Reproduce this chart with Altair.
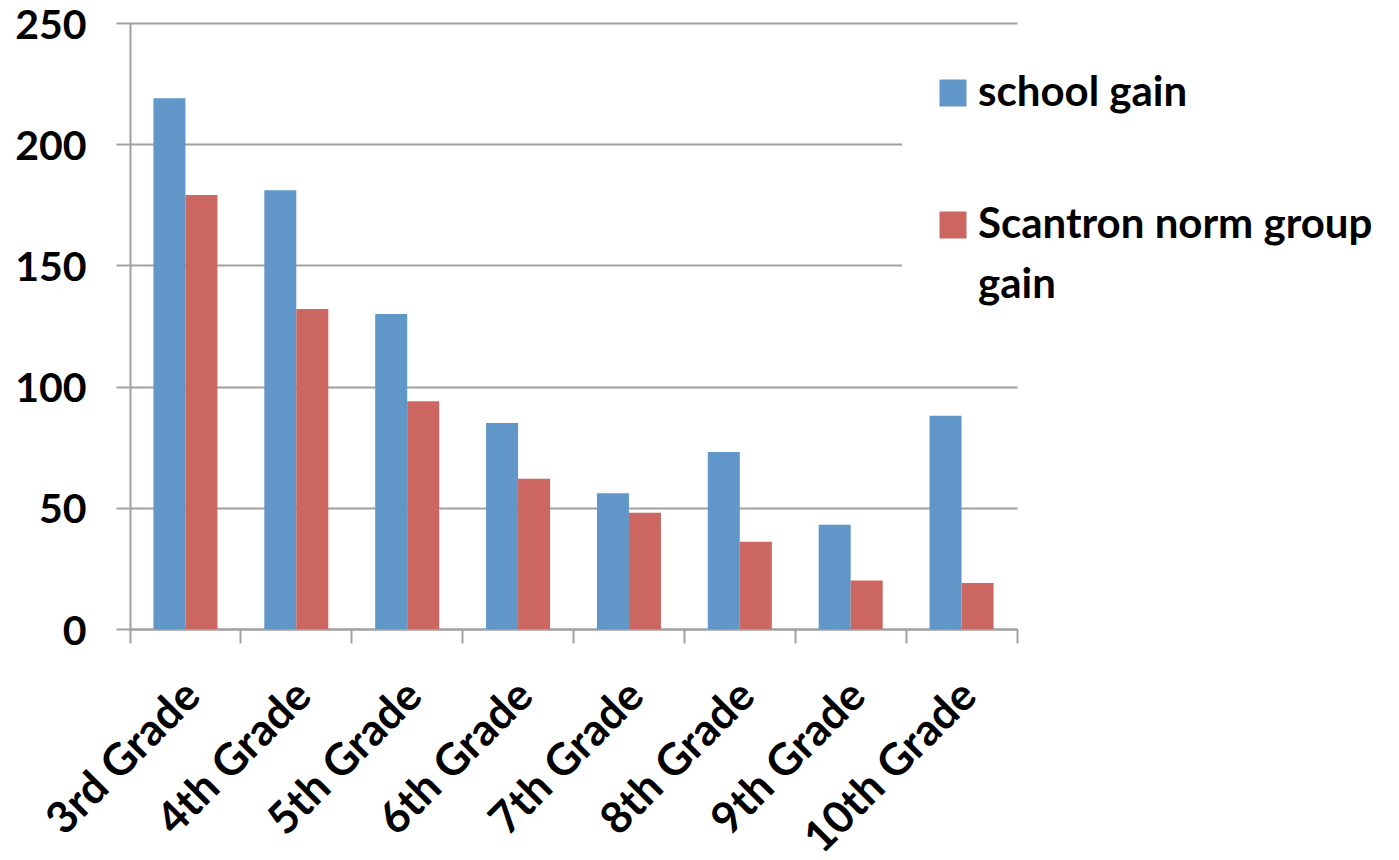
import altair as alt
import pandas as pd

grades = ["3rd Grade", "4th Grade", "5th Grade", "6th Grade",
          "7th Grade", "8th Grade", "9th Grade", "10th Grade"]
school_gain = [219, 181, 130, 85, 56, 73, 43, 88]
norm_gain = [179, 132, 94, 62, 48, 36, 20, 19]
series = ["school gain", "Scantron norm group gain"]
colors = ["#6196C9", "#CC6660"]
y_ticks = [0, 50, 100, 150, 200, 250]

rows = []
for g, s, n in zip(grades, school_gain, norm_gain):
    rows.append({"grade": g, "series": series[0], "value": s})
    rows.append({"grade": g, "series": series[1], "value": n})
df = pd.DataFrame(rows)

FONT = "Lato"
GRID = "#A0A0A0"

chart = alt.Chart(df).mark_bar().encode(
    x=alt.X("grade:N", sort=grades, title=None,
            scale=alt.Scale(paddingInner=0, paddingOuter=0),
            axis=alt.Axis(bandPosition=1, tickExtra=True, labelOffset=8,
                          labelAngle=-45, labelAlign="right",
                          labelBaseline="middle", labelPadding=46,
                          labelFont=FONT, labelFontSize=44, labelLimit=500,
                          labelFontWeight="bold", labelColor="black",
                          tickSize=14, tickWidth=2, tickColor=GRID,
                          domainColor=GRID, domainWidth=2, grid=False)),
    xOffset=alt.XOffset("series:N", sort=series,
                        scale=alt.Scale(paddingInner=0, paddingOuter=0.732)),
    y=alt.Y("value:Q", title=None,
            scale=alt.Scale(domain=[0, 250], nice=False),
            axis=alt.Axis(values=y_ticks, labelFont=FONT, labelFontSize=41,
                          labelFontWeight="bold", labelColor="black",
                          labelPadding=30, labelOffset=3, tickSize=14,
                          tickWidth=2, tickColor=GRID, domainColor=GRID,
                          domainWidth=2, gridColor=GRID, gridWidth=2)),
    color=alt.Color("series:N", sort=series, title=None,
                    scale=alt.Scale(domain=series, range=colors),
                    legend=alt.Legend(orient="none", legendX=772, legendY=19,
                                      fillColor="white", padding=30,
                                      symbolType="square", symbolSize=729,
                                      symbolStrokeWidth=0, labelOffset=4,
                                      labelFont=FONT, labelFontSize=42,
                                      labelFontWeight="bold", labelColor="black",
                                      labelLimit=600, rowPadding=90,
                                      labelExpr="datum.label == 'Scantron norm group gain' ? ['Scantron norm group', 'gain'] : datum.label")),
).properties(
    width=887, height=606,
    autosize=alt.AutoSizeParams(type="none"),
    padding={"left": 122, "top": 15, "right": 372, "bottom": 222},
).configure(
    style={"guide-label": {"lineHeight": 60}}
).configure_view(stroke=None)

chart.save("out.html", embed_options={"renderer": "svg", "actions": False})
